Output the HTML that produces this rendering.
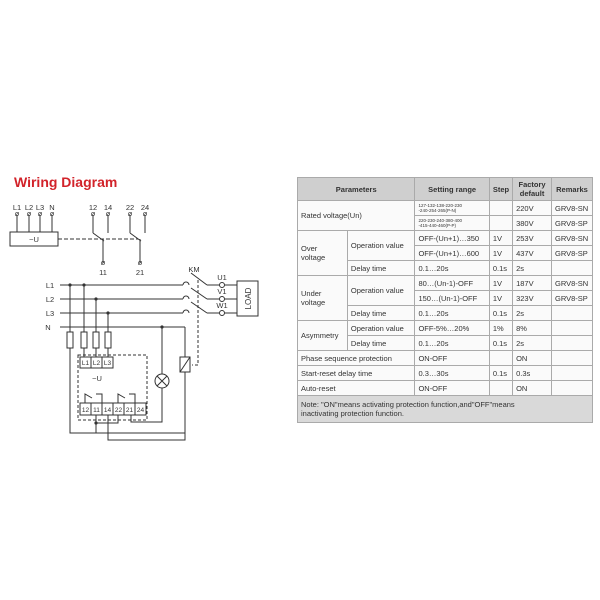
<!DOCTYPE html><html><head><style>
body{margin:0;width:600px;height:600px;background:#fff;position:relative;font-family:"Liberation Sans",Arial,sans-serif;overflow:hidden}
table{position:absolute;left:297px;top:177px;width:296px;border-collapse:collapse;font-size:7.5px;color:#333}
td{border:1px solid #aaa;padding:0 3px;height:14px;background:#fafafa}
tr.h td{background:#cfcfcf;height:22px;text-align:center;font-weight:bold;font-size:7.5px}
td.n{background:#d9d9d9;height:26px;border-color:#aaa}
</style></head><body>
<svg width="300" height="450" style="position:absolute;left:0;top:0" font-family="Liberation Sans, Arial, sans-serif">
<text x="14" y="187" fill="#d2232a" font-size="14" font-weight="bold">Wiring Diagram</text>
<g stroke="#333" stroke-width="1" fill="none">
<rect x="10" y="232" width="48" height="14"/>
<line x1="17" y1="215" x2="17" y2="232"/><line x1="29" y1="215" x2="29" y2="232"/><line x1="40" y1="215" x2="40" y2="232"/><line x1="52" y1="215" x2="52" y2="232"/>
<line x1="58" y1="239" x2="138" y2="239" stroke-dasharray="4,2"/>
<line x1="93" y1="215" x2="93" y2="233"/><line x1="93" y1="233" x2="104" y2="241"/><line x1="103" y1="239" x2="103" y2="263"/><line x1="108" y1="215" x2="108" y2="233"/>
<line x1="130" y1="215" x2="130" y2="233"/><line x1="130" y1="233" x2="141" y2="241"/><line x1="140" y1="239" x2="140" y2="263"/><line x1="145" y1="215" x2="145" y2="233"/>
<line x1="60" y1="285" x2="183" y2="285"/><line x1="60" y1="299" x2="183" y2="299"/><line x1="60" y1="313" x2="183" y2="313"/><line x1="60" y1="327" x2="185" y2="327"/>
<path d="M183 285a3 3 0 0 1 6 0M183 299a3 3 0 0 1 6 0M183 313a3 3 0 0 1 6 0"/>
<line x1="191" y1="273" x2="207" y2="285"/><line x1="191" y1="288" x2="207" y2="299"/><line x1="191" y1="302" x2="207" y2="313"/>
<line x1="207" y1="285" x2="219" y2="285"/><line x1="207" y1="299" x2="219" y2="299"/><line x1="207" y1="313" x2="219" y2="313"/>
<circle cx="222" cy="285" r="2.5"/><circle cx="222" cy="299" r="2.5"/><circle cx="222" cy="313" r="2.5"/>
<line x1="225" y1="285" x2="237" y2="285"/><line x1="225" y1="299" x2="237" y2="299"/><line x1="225" y1="313" x2="237" y2="313"/>
<rect x="237" y="281" width="21" height="35"/>
<path d="M198 280V365H192" stroke-dasharray="3,2"/>
<path d="M70 285V332M70 348V433H185V372M185 357V327"/>
<path d="M84 285V332M84 348V357M96 299V332M96 348V357M108 313V332M108 348V357"/>
<rect x="67" y="332" width="6" height="16"/><rect x="81" y="332" width="6" height="16"/><rect x="93" y="332" width="6" height="16"/><rect x="105" y="332" width="6" height="16"/>
<rect x="78" y="355" width="69" height="65" stroke-dasharray="3,2"/>
<path d="M80 357H113V368H80ZM91 357V368M102 357V368"/>
<path d="M80 403H146V415H80ZM91 403V415M102 403V415M113 403V415M124 403V415M135 403V415"/>
<path d="M85 403V394L92 398M96 394H102V403M118 403V394L125 398M129 394H135V403"/>
<path d="M96 415V423H118V415M96 423V433M108 415V440H185V433M131 415V422H162V388M162 374V327"/>
<circle cx="162" cy="381" r="7"/><path d="M157 376L167 386M167 376L157 386"/>
<rect x="180" y="357" width="10" height="15"/><line x1="180" y1="372" x2="190" y2="357"/>
</g>
<g fill="#333"><circle cx="70" cy="285" r="1.6"/><circle cx="84" cy="285" r="1.6"/><circle cx="96" cy="299" r="1.6"/><circle cx="108" cy="313" r="1.6"/><circle cx="162" cy="327" r="1.6"/><circle cx="96" cy="423" r="1.6"/></g>
<g font-size="7.5" fill="#333" text-anchor="middle">
<text x="17" y="210">L1</text><text x="29" y="210">L2</text><text x="40" y="210">L3</text><text x="52" y="210">N</text>
<text x="93" y="210">12</text><text x="108" y="210">14</text><text x="130" y="210">22</text><text x="145" y="210">24</text>
<text x="17" y="216">ø</text><text x="29" y="216">ø</text><text x="40" y="216">ø</text><text x="52" y="216">ø</text>
<text x="93" y="216">ø</text><text x="108" y="216">ø</text><text x="130" y="216">ø</text><text x="145" y="216">ø</text>
<text x="103" y="265">ø</text><text x="140" y="265">ø</text><text x="103" y="275">11</text><text x="140" y="275">21</text>
<text x="34" y="242">~U</text>
<text x="50" y="288">L1</text><text x="50" y="302">L2</text><text x="50" y="316">L3</text><text x="48" y="330">N</text>
<text x="194" y="272">KM</text><text x="222" y="280">U1</text><text x="222" y="294">V1</text><text x="222" y="308">W1</text>
<text x="97" y="381">~U</text>
<g font-size="6.5"><text x="85.5" y="365">L1</text><text x="96.5" y="365">L2</text><text x="107.5" y="365">L3</text>
<text x="85.5" y="412">12</text><text x="96.5" y="412">11</text><text x="107.5" y="412">14</text><text x="118.5" y="412">22</text><text x="129.5" y="412">21</text><text x="140.5" y="412">24</text></g>
<text x="0" y="0" transform="translate(251,298.5) rotate(-90)" font-size="8">LOAD</text>
</g>
</svg>
<table>
<colgroup><col style="width:50px"><col style="width:68px"><col style="width:75px"><col style="width:23px"><col style="width:39px"><col style="width:41px"></colgroup>
<tr class="h"><td colspan="2">Parameters</td><td>Setting range</td><td>Step</td><td>Factory<br>default</td><td>Remarks</td></tr>
<tr><td colspan="2" rowspan="2">Rated voltage(Un)</td><td style="font-size:4.5px;line-height:5px">127-132-138-220-230<br>-240-254-265(P-N)</td><td></td><td>220V</td><td>GRV8-SN</td></tr>
<tr><td style="font-size:4.5px;line-height:5px">220-230-240-380-400<br>-415-440-460(P-P)</td><td></td><td>380V</td><td>GRV8-SP</td></tr>
<tr><td rowspan="3">Over<br>voltage</td><td rowspan="2">Operation value</td><td>OFF-(Un+1)…350</td><td>1V</td><td>253V</td><td>GRV8-SN</td></tr>
<tr><td>OFF-(Un+1)…600</td><td>1V</td><td>437V</td><td>GRV8-SP</td></tr>
<tr><td>Delay time</td><td>0.1…20s</td><td>0.1s</td><td>2s</td><td></td></tr>
<tr><td rowspan="3">Under<br>voltage</td><td rowspan="2">Operation value</td><td>80…(Un-1)-OFF</td><td>1V</td><td>187V</td><td>GRV8-SN</td></tr>
<tr><td>150…(Un-1)-OFF</td><td>1V</td><td>323V</td><td>GRV8-SP</td></tr>
<tr><td>Delay time</td><td>0.1…20s</td><td>0.1s</td><td>2s</td><td></td></tr>
<tr><td rowspan="2">Asymmetry</td><td>Operation value</td><td>OFF-5%…20%</td><td>1%</td><td>8%</td><td></td></tr>
<tr><td>Delay time</td><td>0.1…20s</td><td>0.1s</td><td>2s</td><td></td></tr>
<tr><td colspan="2">Phase sequence protection</td><td>ON-OFF</td><td></td><td>ON</td><td></td></tr>
<tr><td colspan="2">Start-reset delay time</td><td>0.3…30s</td><td>0.1s</td><td>0.3s</td><td></td></tr>
<tr><td colspan="2">Auto-reset</td><td>ON-OFF</td><td></td><td>ON</td><td></td></tr>
<tr><td colspan="6" class="n">Note: "ON"means activating protection function,and"OFF"means<br>inactivating protection function.</td></tr>
</table>
</body></html>
